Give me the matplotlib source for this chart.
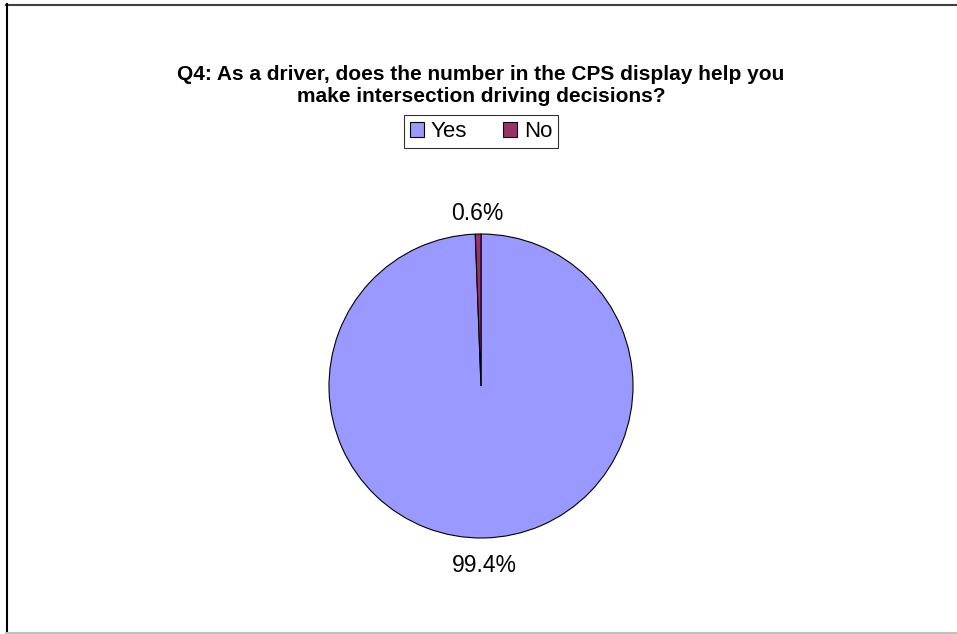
import matplotlib
matplotlib.use('Agg')
import matplotlib.pyplot as plt
from matplotlib.lines import Line2D
from matplotlib.patches import Patch

# Survey answers for Q4 (percent of respondents)
labels = ['Yes', 'No']
shares = [99.4, 0.6]
colors = ['#9999FF', '#993366']

plt.rcParams['font.family'] = ['Liberation Sans', 'DejaVu Sans']

W, H = 957, 634
fig = plt.figure(figsize=(W / 100, H / 100), dpi=100)

# Excel-like frame around the chart area
fig.add_artist(Line2D([6 / W, 956 / W], [1 - 4.5 / H, 1 - 4.5 / H], color='#404040', lw=1.5))
fig.add_artist(Line2D([6.5 / W, 6.5 / W], [1 - 4 / H, 1 - 633 / H], color='black', lw=1.5))
fig.add_artist(Line2D([6 / W, 957 / W], [1 - 632.5 / H, 1 - 632.5 / H], color='#c0c0c0', lw=1.5))

fig.text(481 / W, 1 - 85.5 / H,
         'Q4: As a driver, does the number in the CPS display help you\n'
         'make intersection driving decisions?',
         ha='center', va='center', fontsize=15, fontweight='bold',
         linespacing=1.25)

# pie area: centre (481, 386), radius 152 px
cx, cy, r = 481, 386, 152
ax = fig.add_axes([(cx - r) / W, (H - cy - r) / H, 2 * r / W, 2 * r / H])
wedges, texts, autotexts = ax.pie(
    shares, colors=colors, startangle=90, counterclock=False, radius=1,
    wedgeprops=dict(edgecolor='black', linewidth=0.8),
    autopct='%.1f%%', pctdistance=1.16,
    textprops=dict(fontsize=16.5, color='black'))
# Excel puts the lower label a little further out than the upper one
for t, d in zip(autotexts, [1.18, 1.135]):
    x, y = t.get_position()
    t.set_position((x * d / 1.16, y * d / 1.16))
ax.set_xlim(-1, 1)
ax.set_ylim(-1, 1)
ax.set_aspect('equal')
ax.axis('off')

handles = [Patch(facecolor=c, edgecolor='black', linewidth=0.8) for c in colors]
leg = fig.legend(handles, labels, loc='center', bbox_to_anchor=(481 / W, 1 - 131.5 / H),
                 ncol=2, fontsize=16, frameon=True, fancybox=False,
                 handlelength=0.65, handleheight=0.65, handletextpad=0.3,
                 columnspacing=1.6, borderpad=0.25, borderaxespad=0)
leg.get_frame().set_edgecolor('black')
leg.get_frame().set_linewidth(0.8)

fig.savefig('out.png', dpi=100)
